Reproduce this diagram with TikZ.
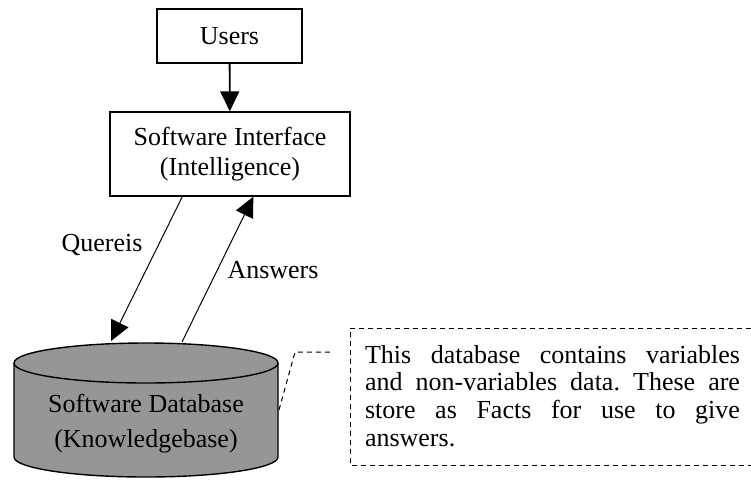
\documentclass[tikz,border=0pt]{standalone}
\usepackage{fontspec}
\setmainfont{Liberation Serif}
\usetikzlibrary{arrows.meta,calc}
\definecolor{dbgray}{RGB}{150,150,150}
\frenchspacing
\begin{document}
\begin{tikzpicture}[x=1pt,y=-1pt,
  box/.style={draw, line width=1.4pt, inner sep=0pt, align=center, font=\fontsize{26}{30}\selectfont},
  lbl/.style={inner sep=0pt, font=\fontsize{26}{30}\selectfont},
  arr/.style={line width=1pt, -{Triangle[length=20pt,width=19pt]}},
  notetext/.style={inner sep=0pt, align=left, font=\fontsize{26}{27.7}\selectfont},
  dashln/.style={line width=1pt, dash pattern=on 5pt off 4pt}
]
\useasboundingbox (0,0) rectangle (751,480);
% nodes
\node[box, minimum width=145pt, minimum height=54pt] (users) at (229.5,36) {Users};
\node[box, minimum width=240pt, minimum height=84pt] (iface) at (230,154) {Software Interface\\(Intelligence)};
% cylinder
\filldraw[fill=dbgray, line width=1.4pt] (14,363) -- (14,457)
  arc[start angle=180, end angle=0, x radius=132, y radius=20] -- (278,363)
  arc[start angle=0, end angle=-180, x radius=132, y radius=20] -- cycle;
\draw[line width=1.4pt] (14,363) arc[start angle=180, end angle=0, x radius=132, y radius=20];
\node[lbl, align=center, font=\fontsize{26}{35}\selectfont] (db) at (146,424) {Software Database\\(Knowledgebase)};
\coordinate (qtip) at (111,341);
\coordinate (atail) at (182,342);
\coordinate (dbright) at (279,410);
\coordinate (bend) at (295,352);
\coordinate (noteend) at (333,352);
% connectors
\draw[arr, line width=1.8pt] (users) -- (iface);
\draw[arr] ($(iface.south west)+(73,0)$) -- (qtip);
\draw[arr] (atail) -- ($(iface.south west)+(144,0)$);
\node[lbl] (q) at (102,245) {Quereis};
\node[lbl] (a) at (273,270) {Answers};
% note
\node[notetext] (note) at (552.5,396) {\makebox[375pt][s]{This database contains variables}\\
\makebox[375pt][s]{and non-variables data. These are}\\
\makebox[375pt][s]{store as Facts for use to give}\\
\makebox[375pt][l]{answers.}};
\draw[dashln] (751,328) -- (350,328) -- (350,465) -- (751,465);
\draw[dashln] (dbright) -- (bend) -- (noteend);
\end{tikzpicture}
\end{document}
